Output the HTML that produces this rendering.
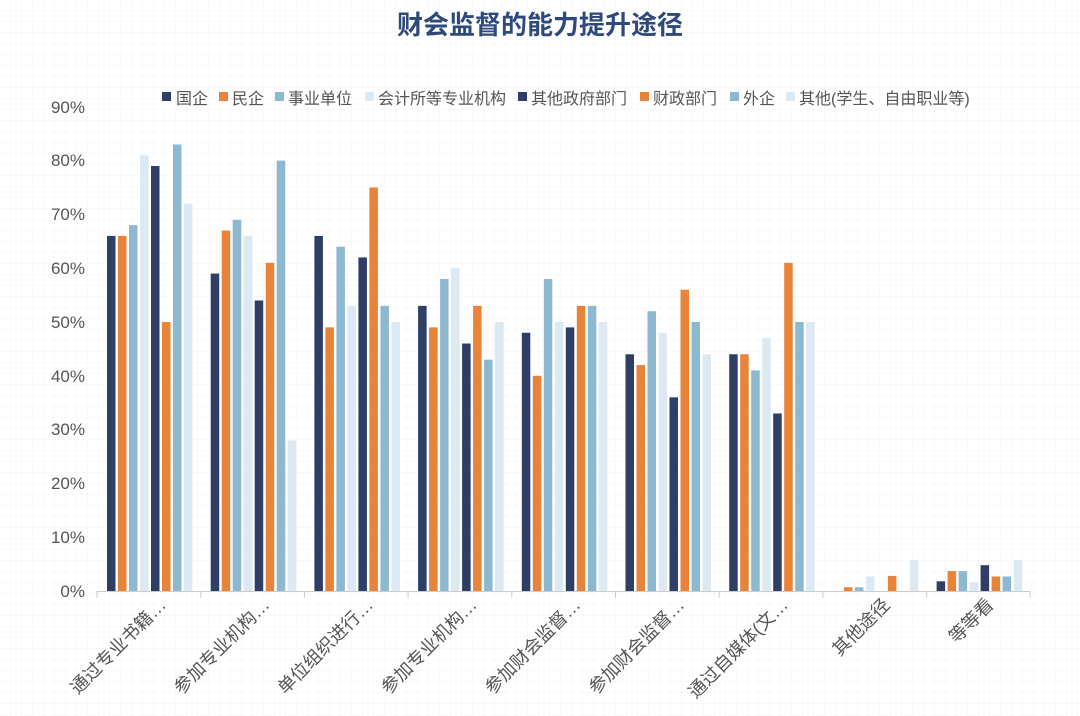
<!DOCTYPE html>
<html><head><meta charset="utf-8"><style>
html,body{margin:0;padding:0;background:#fff}
svg{display:block;font-family:"Liberation Sans","Noto Sans CJK SC",sans-serif}
.a{fill:#2e3e64}.b{fill:#e8833a}.c{fill:#8cb8d0}.d{fill:#dce8f2}
</style></head><body>
<svg width="1080" height="716" viewBox="0 0 1080 716" xmlns="http://www.w3.org/2000/svg">
<defs>
<pattern id="g" width="11" height="11" patternUnits="userSpaceOnUse">
<path d="M11 0V11M0 11H11" stroke="#f1f3f6" stroke-width="1" fill="none"/>
</pattern>
</defs>
<rect width="1080" height="716" fill="#fff"/>
<rect width="1080" height="716" fill="url(#g)"/>
<text x="540" y="34" text-anchor="middle" font-size="26" font-weight="bold" fill="#2d4a7a">财会监督的能力提升途径</text>
<g font-size="16" fill="#555">
<rect x="162" y="92" width="9" height="9" class="a"/><text x="176" y="104">国企</text>
<rect x="219" y="92" width="9" height="9" class="b"/><text x="232" y="104">民企</text>
<rect x="275" y="92" width="9" height="9" class="c"/><text x="288" y="104">事业单位</text>
<rect x="365" y="92" width="9" height="9" class="d"/><text x="378" y="104">会计所等专业机构</text>
<rect x="518" y="92" width="9" height="9" class="a"/><text x="531" y="104">其他政府部门</text>
<rect x="640" y="92" width="9" height="9" class="b"/><text x="653" y="104">财政部门</text>
<rect x="730" y="92" width="9" height="9" class="c"/><text x="743" y="104">外企</text>
<rect x="786" y="92" width="9" height="9" class="d"/><text x="799" y="104">其他(学生、自由职业等)</text>
</g>
<g font-size="17" fill="#555" text-anchor="end">
<text x="85" y="597">0%</text><text x="85" y="543">10%</text><text x="85" y="489">20%</text>
<text x="85" y="435">30%</text><text x="85" y="382">40%</text><text x="85" y="328">50%</text>
<text x="85" y="274">60%</text><text x="85" y="220">70%</text><text x="85" y="166">80%</text>
<text x="85" y="113">90%</text>
</g>
<g transform="translate(0,591) scale(1,-5.38)">
<rect x="107" width="8.5" height="66" class="a"/><rect x="118" width="8.5" height="66" class="b"/><rect x="129" width="8.5" height="68" class="c"/><rect x="140" width="8.5" height="81" class="d"/><rect x="151" width="8.5" height="79" class="a"/><rect x="162" width="8.5" height="50" class="b"/><rect x="173" width="8.5" height="83" class="c"/><rect x="184" width="8.5" height="72" class="d"/>
<rect x="210.7" width="8.5" height="59" class="a"/><rect x="221.7" width="8.5" height="67" class="b"/><rect x="232.7" width="8.5" height="69" class="c"/><rect x="243.7" width="8.5" height="66" class="d"/><rect x="254.7" width="8.5" height="54" class="a"/><rect x="265.7" width="8.5" height="61" class="b"/><rect x="276.7" width="8.5" height="80" class="c"/><rect x="287.7" width="8.5" height="28" class="d"/>
<rect x="314.4" width="8.5" height="66" class="a"/><rect x="325.4" width="8.5" height="49" class="b"/><rect x="336.4" width="8.5" height="64" class="c"/><rect x="347.4" width="8.5" height="53" class="d"/><rect x="358.4" width="8.5" height="62" class="a"/><rect x="369.4" width="8.5" height="75" class="b"/><rect x="380.4" width="8.5" height="53" class="c"/><rect x="391.4" width="8.5" height="50" class="d"/>
<rect x="418.1" width="8.5" height="53" class="a"/><rect x="429.1" width="8.5" height="49" class="b"/><rect x="440.1" width="8.5" height="58" class="c"/><rect x="451.1" width="8.5" height="60" class="d"/><rect x="462.1" width="8.5" height="46" class="a"/><rect x="473.1" width="8.5" height="53" class="b"/><rect x="484.1" width="8.5" height="43" class="c"/><rect x="495.1" width="8.5" height="50" class="d"/>
<rect x="521.8" width="8.5" height="48" class="a"/><rect x="532.8" width="8.5" height="40" class="b"/><rect x="543.8" width="8.5" height="58" class="c"/><rect x="554.8" width="8.5" height="50" class="d"/><rect x="565.8" width="8.5" height="49" class="a"/><rect x="576.8" width="8.5" height="53" class="b"/><rect x="587.8" width="8.5" height="53" class="c"/><rect x="598.8" width="8.5" height="50" class="d"/>
<rect x="625.5" width="8.5" height="44" class="a"/><rect x="636.5" width="8.5" height="42" class="b"/><rect x="647.5" width="8.5" height="52" class="c"/><rect x="658.5" width="8.5" height="48" class="d"/><rect x="669.5" width="8.5" height="36" class="a"/><rect x="680.5" width="8.5" height="56" class="b"/><rect x="691.5" width="8.5" height="50" class="c"/><rect x="702.5" width="8.5" height="44" class="d"/>
<rect x="729.2" width="8.5" height="44" class="a"/><rect x="740.2" width="8.5" height="44" class="b"/><rect x="751.2" width="8.5" height="41" class="c"/><rect x="762.2" width="8.5" height="47" class="d"/><rect x="773.2" width="8.5" height="33" class="a"/><rect x="784.2" width="8.5" height="61" class="b"/><rect x="795.2" width="8.5" height="50" class="c"/><rect x="806.2" width="8.5" height="50" class="d"/>
<rect x="843.9" width="8.5" height="0.7" class="b"/><rect x="854.9" width="8.5" height="0.7" class="c"/><rect x="865.9" width="8.5" height="2.7" class="d"/><rect x="887.9" width="8.5" height="2.8" class="b"/><rect x="909.9" width="8.5" height="5.8" class="d"/>
<rect x="936.6" width="8.5" height="1.8" class="a"/><rect x="947.6" width="8.5" height="3.7" class="b"/><rect x="958.6" width="8.5" height="3.7" class="c"/><rect x="969.6" width="8.5" height="1.6" class="d"/><rect x="980.6" width="8.5" height="4.8" class="a"/><rect x="991.6" width="8.5" height="2.7" class="b"/><rect x="1002.6" width="8.5" height="2.7" class="c"/><rect x="1013.6" width="8.5" height="5.8" class="d"/>
</g>
<line x1="97" y1="591.5" x2="1030" y2="591.5" stroke="#ccc"/>
<g stroke="#ccc">
<line x1="97" y1="591" x2="97" y2="598"/><line x1="200.7" y1="591" x2="200.7" y2="598"/><line x1="304.4" y1="591" x2="304.4" y2="598"/><line x1="408.1" y1="591" x2="408.1" y2="598"/><line x1="511.8" y1="591" x2="511.8" y2="598"/><line x1="615.5" y1="591" x2="615.5" y2="598"/><line x1="719.2" y1="591" x2="719.2" y2="598"/><line x1="822.9" y1="591" x2="822.9" y2="598"/><line x1="926.6" y1="591" x2="926.6" y2="598"/><line x1="1030" y1="591" x2="1030" y2="598"/>
</g>
<g font-size="18" fill="#555" text-anchor="end">
<text transform="translate(167,606) rotate(-45)">通过专业书籍…</text>
<text transform="translate(270.6,606) rotate(-45)">参加专业机构…</text>
<text transform="translate(374.2,606) rotate(-45)">单位组织进行…</text>
<text transform="translate(477.9,606) rotate(-45)">参加专业机构…</text>
<text transform="translate(581.6,606) rotate(-45)">参加财会监督…</text>
<text transform="translate(685.4,606) rotate(-45)">参加财会监督…</text>
<text transform="translate(789.1,606) rotate(-45)">通过自媒体(文…</text>
<text transform="translate(890.8,606) rotate(-45)">其他途径</text>
<text transform="translate(994.5,606) rotate(-45)">等等看</text>
</g>
</svg>
</body></html>
